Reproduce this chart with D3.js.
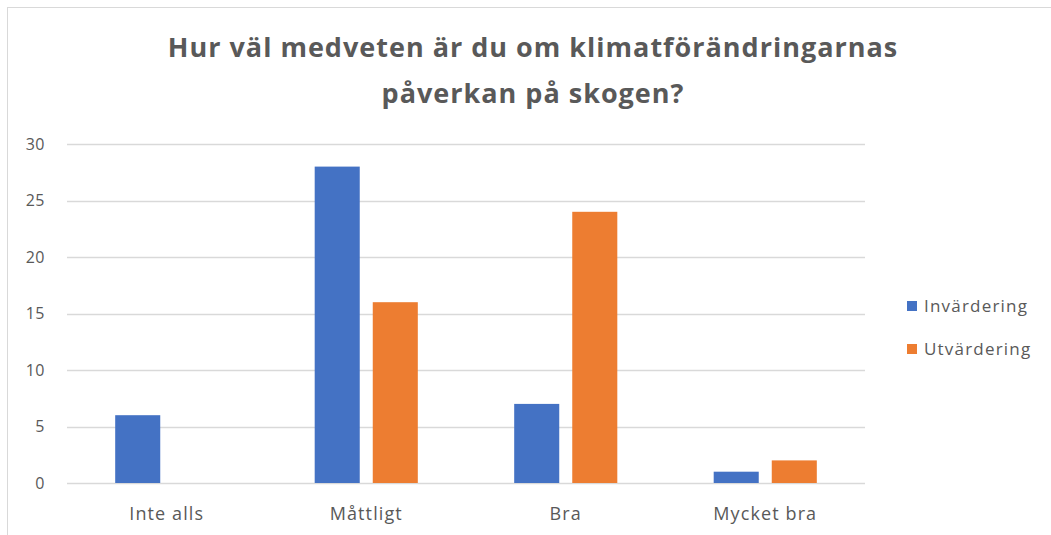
<!DOCTYPE html>
<html>
<head>
<meta charset="utf-8">
<script src="https://cdn.jsdelivr.net/npm/d3@7"></script>
<style>
  body { margin: 0; background: #fff; }
  svg { font-family: "Open Sans", Lato, sans-serif; }
</style>
</head>
<body>
<div id="chart"></div>
<script>
const categories = ['Inte alls', 'Måttligt', 'Bra', 'Mycket bra'];
const series = ['Invärdering', 'Utvärdering'];
const invardering = [6, 28, 7, 1];
const utvardering = [0, 16, 24, 2];
const yTicks = [0, 5, 10, 15, 20, 25, 30];
const titleLines = ['Hur väl medveten är du om klimatförändringarnas', 'påverkan på skogen?'];

const values = [invardering, utvardering];
const colours = d3.scaleOrdinal().domain(series).range(['#4472C4', '#ED7D31']);

const width = 1051;
const height = 535;
const plot = {left: 67, right: 865, top: 144, bottom: 483};

const svg = d3.select('#chart')
  .append('svg')
    .attr('width', width)
    .attr('height', height);

// chart border
svg.append('rect')
  .attr('x', 7.5).attr('y', 7.5)
  .attr('width', width + 10).attr('height', height + 10)
  .attr('fill', 'none')
  .attr('stroke', '#d9d9d9');

svg.append('text')
  .attr('text-anchor', 'middle')
  .attr('fill', '#595959')
  .attr('font-size', 27)
  .attr('font-weight', 'bold')
  .attr('letter-spacing', 1)
  .selectAll('tspan')
  .data(titleLines)
  .enter()
    .append('tspan')
      .attr('x', 533)
      .attr('y', (d, i) => 57 + i * 46)
      .text(d => d);

const x0 = d3.scaleBand()
  .domain(categories)
  .range([plot.left, plot.right]);

const x1 = d3.scaleBand()
  .domain(series)
  .range([0, x0.bandwidth()])
  .paddingInner(0.224)
  .paddingOuter(0.83);

const y = d3.scaleLinear()
  .domain([0, 30])
  .range([plot.bottom, plot.top]);

// gridlines
svg.append('g')
  .selectAll('line')
  .data(yTicks)
  .enter()
    .append('line')
      .attr('x1', plot.left)
      .attr('x2', plot.right)
      .attr('y1', d => Math.round(y(d)) + 0.5)
      .attr('y2', d => Math.round(y(d)) + 0.5)
      .attr('stroke', '#d9d9d9')
      .attr('stroke-width', 1.5);

const yAxis = svg.append('g')
  .attr('transform', `translate(${plot.left}, 0)`)
  .call(d3.axisLeft(y).tickValues(yTicks).tickSize(0).tickPadding(22));
yAxis.select('.domain').remove();
yAxis.selectAll('text')
  .attr('font-family', '"Open Sans", sans-serif')
  .attr('font-size', 16)
  .attr('letter-spacing', 0.5)
  .attr('fill', '#595959');

const xAxis = svg.append('g')
  .attr('transform', `translate(0, ${plot.bottom})`)
  .call(d3.axisBottom(x0).tickSize(0).tickPadding(24));
xAxis.select('.domain').remove();
xAxis.selectAll('text')
  .attr('font-family', '"Open Sans", sans-serif')
  .attr('font-size', 18)
  .attr('letter-spacing', 1.1)
  .attr('fill', '#595959');

// bars
const groups = svg.append('g')
  .selectAll('g')
  .data(categories)
  .enter()
    .append('g')
      .attr('transform', d => `translate(${x0(d)}, 0)`);

groups.selectAll('rect')
  .data((d, i) => series.map((s, j) => ({series: s, value: values[j][i]})))
  .enter()
    .append('rect')
      .attr('x', d => x1(d.series))
      .attr('y', d => y(d.value))
      .attr('width', x1.bandwidth())
      .attr('height', d => plot.bottom - y(d.value))
      .attr('fill', d => colours(d.series));

// legend
const legend = svg.append('g')
  .selectAll('g')
  .data(series)
  .enter()
    .append('g')
      .attr('transform', (d, i) => `translate(907, ${306 + i * 43})`);

legend.append('rect')
  .attr('x', 0).attr('y', -5)
  .attr('width', 10).attr('height', 10)
  .attr('fill', d => colours(d));

legend.append('text')
  .attr('x', 17)
  .attr('dy', '0.35em')
  .attr('font-size', 17)
  .attr('letter-spacing', 1.2)
  .attr('fill', '#595959')
  .text(d => d);
</script>
</body>
</html>
